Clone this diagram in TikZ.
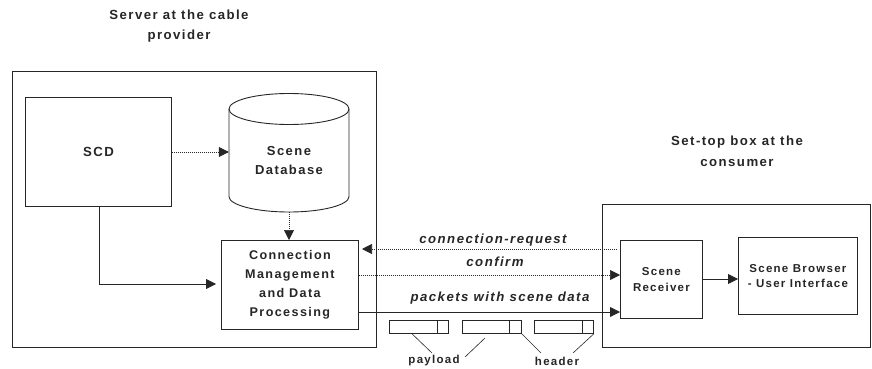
\documentclass[tikz,border=0pt]{standalone}
\usepackage{fontspec}
\setmainfont{Liberation Sans}[LetterSpace=11]
\usetikzlibrary{arrows.meta}
\definecolor{ink}{gray}{0.15}
\tikzset{
  box/.style={draw=ink,line width=0.8pt,rectangle,inner sep=0pt,anchor=north west},
  lab/.style 2 args={font=\fontsize{#1}{#2}\selectfont\bfseries,align=center,inner sep=0pt,text=ink},
  ital/.style={font=\fontsize{13.2}{15}\selectfont\bfseries\itshape,inner sep=0pt,text=ink},
  tiph/.style={-{Triangle[length=10pt,width=10pt]}},
  solidc/.style={tiph,line width=0.8pt,draw=ink},
  dotc/.style={tiph,line width=0.7pt,dash pattern=on 1pt off 1pt,draw=ink},
  plain/.style={line width=0.6pt,draw=ink},
}
\newcommand{\pbox}[3]{% name, left, divider
  \node[box,minimum width=59pt,minimum height=13pt] (#1) at (#2,320) {};
  \draw[plain] (#3,320) -- (#3,333);
}
\begin{document}
\begin{tikzpicture}[x=1pt,y=-1pt]
\useasboundingbox (0,0) rectangle (872,369);
\node[box,minimum width=364pt,minimum height=276pt] (srv) at (12,71) {};
\node[box,minimum width=268pt,minimum height=143pt] (stb) at (602,204) {};
\node[box,lab={13.2}{19},minimum width=146pt,minimum height=109pt] (scd) at (25,97) {SCD};
% cylinder
\node[inner sep=0pt,minimum width=120pt,minimum height=118pt] (db) at (289,153) {};
\draw[draw=ink,line width=0.9pt] (229,109) arc[start angle=180,end angle=0,x radius=60,y radius=-15.5]
   -- (349,196.5) arc[start angle=0,end angle=-180,x radius=60,y radius=-15.5] -- cycle;
\draw[draw=ink,line width=0.9pt] (229,109) arc[start angle=180,end angle=360,x radius=60,y radius=-15.5];
\node[lab={13}{19}] (dbl) at (289,161) {Scene\\Database};
\node[box,lab={12.6}{19},minimum width=137pt,minimum height=89pt] (cm) at (221,240) {Connection\\Management\\and Data\\Processing};
\node[box,lab={11.5}{16},minimum width=82pt,minimum height=78pt] (rcv) at (620,240) {Scene\\Receiver};
\node[box,lab={11.5}{15.5},minimum width=119pt,minimum height=77pt] (brw) at (738,237) {Scene Browser\\- User Interface};

\node[lab={13.2}{19.5}] (t1) at (179,26) {Server at the cable\\provider};
\node[lab={13.2}{21}] (t2) at (737,151) {Set-top box at the\\consumer};

\draw[dotc] (scd.east |- 0,152) -- (db.west |- 0,152);
\draw[dotc] (db.south) -- (cm.north -| db.south);
\draw[solidc] (scd.south -| 99,0) |- (216,284) coordinate (e1);

\coordinate (crs) at (617,249);
\coordinate (cre) at (362,249);
\draw[dotc] (crs) -- (cre);
\draw[dotc] (cm.east |- 0,275) -- (rcv.west |- 0,275);
\draw[solidc] (cm.east |- 0,312) -- (rcv.west |- 0,312);
\draw[solidc] (rcv.east |- 0,279) -- (brw.west |- 0,279);

\node[ital] (l1) at (493,240) {connection-request};
\node[ital] (l2) at (495,262) {confirm};
\node[ital] (l3) at (500,298) {packets with scene data};

\pbox{p1}{389}{437}
\pbox{p2}{462}{509}
\pbox{p3}{534}{582}
\node[lab={11.5}{14}] (pay) at (434,361) {payload};
\node[lab={11.5}{14}] (hdr) at (557,361) {header};
\coordinate (pa) at (432,353);
\coordinate (pb) at (465,357);
\coordinate (pc) at (485,338);
\coordinate (ha) at (541,353);
\coordinate (hb) at (573,353);
\draw[plain] (p1.south -| 412,0) -- (pa);
\draw[plain] (pc) -- (pb);
\draw[plain] (p2.south east) -- (ha);
\draw[plain] (p3.south east) -- (hb);
\end{tikzpicture}
\end{document}
